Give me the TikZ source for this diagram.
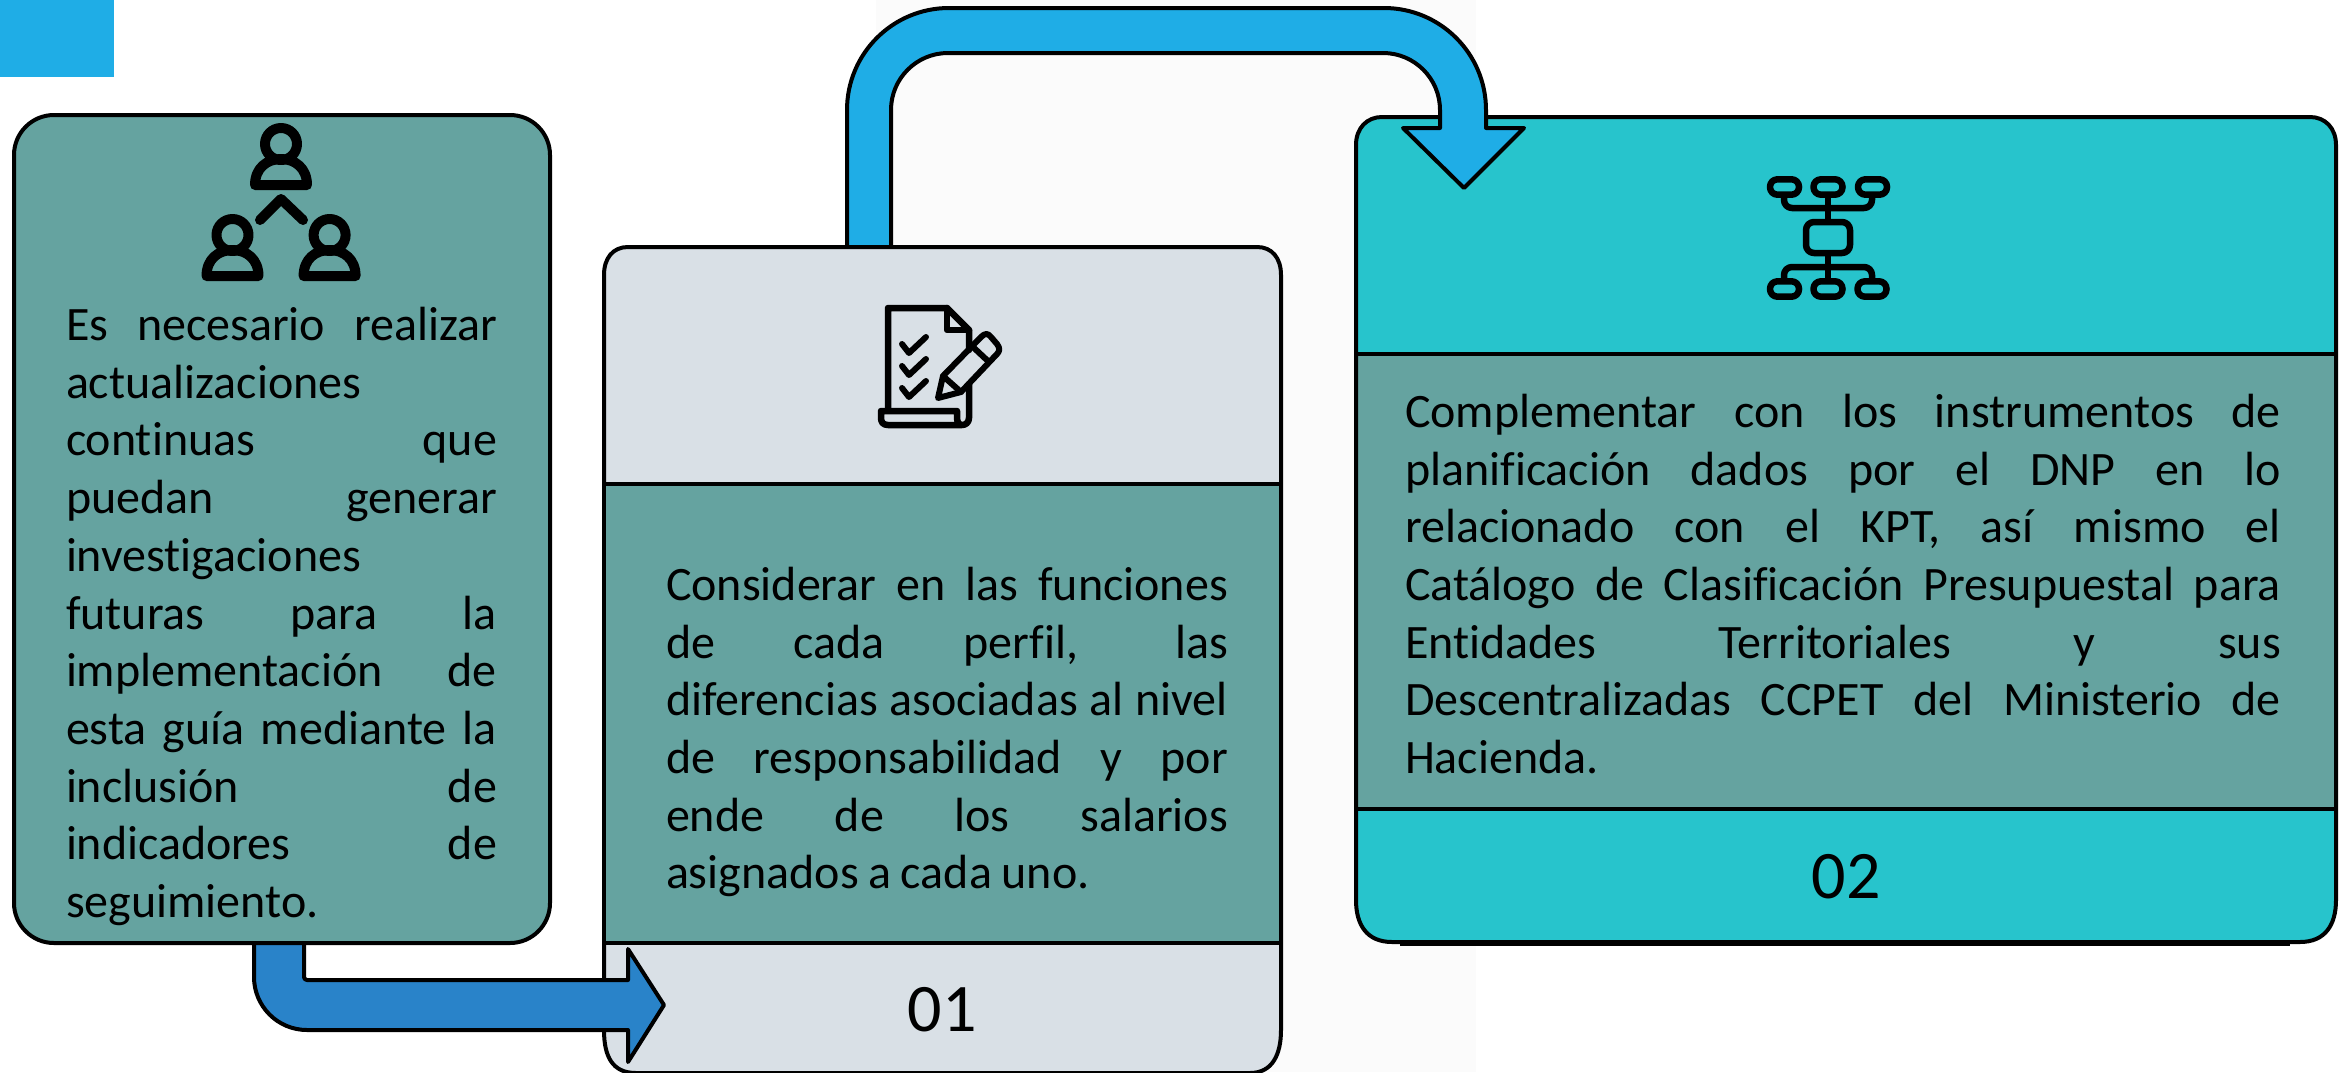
\documentclass[tikz,border=0pt]{standalone}
\usepackage{fontspec}
\setmainfont{Carlito}[Ligatures=NoCommon]
\definecolor{tealP}{HTML}{65A3A0}
\definecolor{grayP}{HTML}{D9E0E6}
\definecolor{cyanP}{HTML}{27C4CC}
\definecolor{blueA}{HTML}{1FADE6}
\definecolor{blueB}{HTML}{2983C9}
\definecolor{bgP}{HTML}{FBFBFB}
\newcommand{\jl}[1]{\leavevmode\hbox to \hsize{\spaceskip=0.1em plus 1fil\relax #1}}
\tikzset{
  outl/.style={draw=black,line width=4pt,line join=round},
  body/.style={inner sep=0pt,outer sep=0pt,align=left,font=\fontsize{48}{57.7}\selectfont,anchor=center},
  numl/.style={inner sep=0pt,outer sep=0pt,font=\fontsize{68}{68}\selectfont},
  ico/.style={draw=black,line width=#1,line join=round,line cap=round,fill=none},
  ico/.default=10pt,
}
\newcommand{\person}[2]{%
  \draw[ico] (#1,#2) circle[radius=16pt];
  \draw[ico] (#1-26,#2+41) -- (#1+26,#2+41) .. controls (#1+26,#2+24) and (#1+14,#2+15) .. (#1,#2+15) .. controls (#1-14,#2+15) and (#1-26,#2+24) .. cycle;
}
\newcommand{\pill}[2]{%
  \draw[ico=6.5pt,rounded corners=7.5pt] (#1-14.5,#2-7.7) rectangle (#1+14.5,#2+7.7);
}
\newcommand{\panelthree}{(1356,300) -- (1356,900) .. controls (1356,925) and (1367,942) .. (1392,942) -- (2300,942) .. controls (2325,942) and (2336,925) .. (2336,900) -- (2336,145) .. controls (2336,128) and (2325,117) .. (2310,117) -- (1382,117) .. controls (1367,117) and (1356,128) .. (1356,145) -- cycle}
\begin{document}
\begin{tikzpicture}[x=1pt,y=-1pt]
\useasboundingbox (0,0) rectangle (2351,1072);
\fill[white] (0,0) rectangle (2351,1072);
\fill[bgP] (876,0) rectangle (1476,1072);
\fill[blueA] (0,0) rectangle (114,77);

% panel 3
\fill[cyanP] \panelthree;
\fill[tealP] (1356,354) rectangle (2336,809);
\draw[outl] (1356,354) -- (2336,354) (1356,809) -- (2336,809);
\draw[outl] \panelthree;
\draw[line width=4pt,black] (1400,944) -- (2290,944);
\node[body,text width=876pt] (t3) at (1843,584) {%
\jl{Complementar con los instrumentos de}\\
\jl{planificación dados por el DNP en lo}\\
\jl{relacionado con el KPT, así mismo el}\\
\jl{Catálogo de Clasificación Presupuestal para}\\
\jl{Entidades Territoriales y sus}\\
\jl{Descentralizadas CCPET del Ministerio de}\\
Hacienda.};
\node[numl] (n2) at (1846,877) {02};
\coordinate (a1end) at (1464,188);

% top arrow
\coordinate (a1start) at (869,250);
\draw[outl,fill=blueA] (a1start) ++(-22,0) [rounded corners=102pt] -- (847,8) -- (1486,8) [sharp corners] -- (1486,128) -- (1524,128) -- (a1end) -- (1403,128) -- (1440,128) [rounded corners=57pt] -- (1440,53) -- (891,53) [sharp corners] -- (891,250);

% panel 2
\draw[outl,fill=grayP] (604,300) -- (604,1030) .. controls (604,1056) and (612,1073) .. (636,1073) -- (1250,1073) .. controls (1272,1073) and (1281,1055) .. (1281,1030) -- (1281,275) .. controls (1281,258) and (1272,247) .. (1257,247) -- (628,247) .. controls (613,247) and (604,258) .. (604,275) -- cycle;
\draw[outl,fill=tealP] (604,484) rectangle (1281,943);
\node[body,text width=562pt] (t2) at (947,732) {%
\jl{Considerar en las funciones}\\
\jl{de cada perfil, las}\\
\jl{diferencias asociadas al nivel}\\
\jl{de responsabilidad y por}\\
\jl{ende de los salarios}\\
{\spaceskip=0.2em\relax asignados a cada uno.}};
\node[numl] (n1) at (942,1010) {01};
\coordinate (a2end) at (664,1005);

% bottom arrow
\coordinate (a2start) at (279,935);
\draw[outl,fill=blueB] (a2start) ++(-25,0) [rounded corners=53pt] -- (254,1030) [sharp corners] -- (628,1030) -- (628,1062) -- (a2end) -- (628,949) -- (628,980) [rounded corners=3pt] -- (304,980) [sharp corners] -- (304,935);

% panel 1
\node[draw=black,line width=4pt,fill=tealP,rounded corners=40pt,minimum width=536pt,minimum height=828pt,inner sep=0pt,outer sep=0pt] (p1) at (282,529) {};
\node[body,text width=431pt] (t1) at (281.5,616.5) {%
\jl{Es necesario realizar}\\
actualizaciones\\
\jl{continuas que}\\
\jl{puedan generar}\\
investigaciones\\
\jl{futuras para la}\\
\jl{implementación de}\\
\jl{esta guía mediante la}\\
\jl{inclusión de}\\
\jl{indicadores de}\\
seguimiento.};

% people icon
\person{281}{144}
\person{232.5}{235}
\person{329.6}{235}
\draw[ico] (260,220) -- (281,199) -- (303,220);

% checklist icon
\draw[ico=6.5pt] (888,410) -- (888,308) -- (947,308) -- (969,330) -- (969,350);
\draw[ico=6.5pt] (947,308) -- (947,330) -- (969,330);
\draw[ico=6.5pt] (969,384) -- (969,418) .. controls (969,423) and (965,425) .. (962,425) -- (888,425) .. controls (883,425) and (881,422) .. (881,418) -- (881,411) -- (957,411) -- (957,418) .. controls (957,423) and (960,425) .. (962,425);
\foreach \dy in {0,22,44} {
  \draw[ico=6pt] (902,344+\dy) -- (909,353+\dy) -- (926,337+\dy);
}
\draw[ico=6pt] (938,398) -- (943,376) -- (981,337) .. controls (985,333) and (988,333) .. (991,337) -- (997,344) .. controls (1000,348) and (1000,351) .. (997,354) -- (961,392) -- cycle;
\draw[ico=6pt] (943,376) -- (961,392);
\draw[ico=6pt] (973,347) -- (989,362);

% hierarchy icon
\pill{1784.5}{187}\pill{1828}{187}\pill{1872.5}{187}
\pill{1784.5}{289}\pill{1828}{289}\pill{1872}{289}
\draw[ico=6.5pt,rounded corners=8pt] (1806,222) rectangle (1850,253);
\draw[ico=6.5pt,rounded corners=8pt] (1784,198) -- (1784,208) -- (1872,208) -- (1872,198);
\draw[ico=6.5pt,rounded corners=8pt] (1784,278) -- (1784,267) -- (1872,267) -- (1872,278);
\draw[ico=6.5pt,line cap=butt] (1828,198) -- (1828,220) (1828,256) -- (1828,278);
\end{tikzpicture}
\end{document}
